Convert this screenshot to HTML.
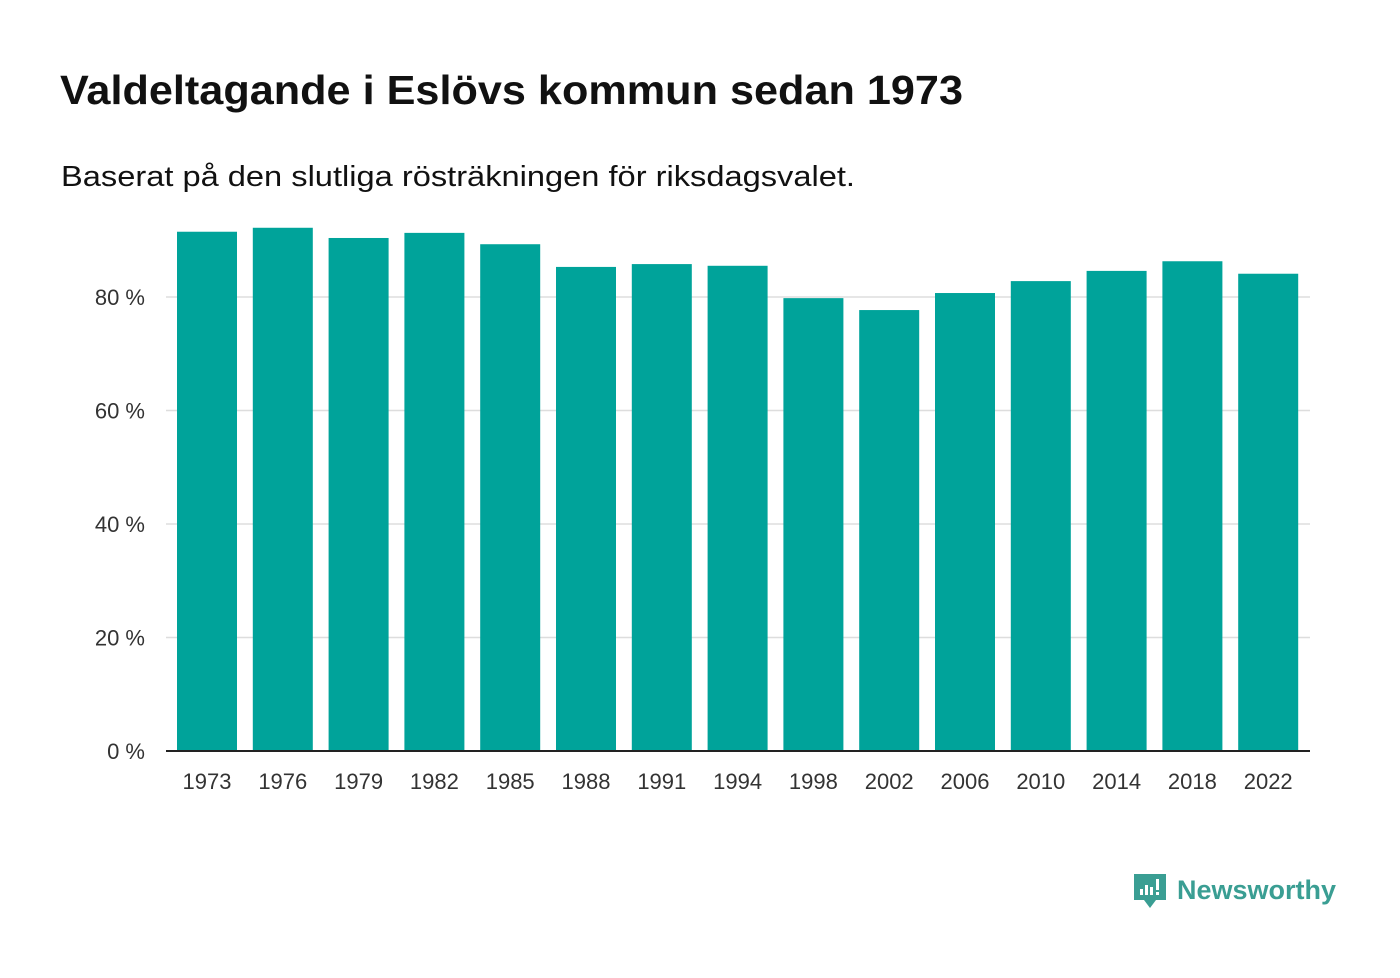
<!DOCTYPE html>
<html><head><meta charset="utf-8"><style>
body{margin:0;background:#fff;width:1400px;height:973px;overflow:hidden;font-family:"Liberation Sans",sans-serif;}
</style></head><body>
<svg width="1400" height="973">
<text x="60" y="104" font-size="41" font-weight="bold" fill="#111" textLength="903" lengthAdjust="spacingAndGlyphs">Valdeltagande i Eslövs kommun sedan 1973</text>
<text x="61" y="186" font-size="29" fill="#111" textLength="794" lengthAdjust="spacingAndGlyphs">Baserat på den slutliga rösträkningen för riksdagsvalet.</text>
<g id="grid"></g><g id="bars"></g><g id="xl"></g>
<g>
<path d="M1134 874 h32 v26 h-10 l-6 8 l-6 -8 h-10 z" fill="#3a9e93"/>
<rect x="1140" y="889" width="3" height="6" fill="#fff"/><rect x="1145" y="885" width="3" height="10" fill="#fff"/><rect x="1150" y="887" width="3" height="8" fill="#fff"/><rect x="1156" y="879" width="3" height="11" fill="#fff"/><rect x="1156" y="892" width="3" height="3" fill="#fff"/>
<text x="1177" y="899" font-size="27" font-weight="bold" fill="#3a9e93" textLength="159" lengthAdjust="spacingAndGlyphs">Newsworthy</text>
</g>
</svg>
<script>
const years=["1973","1976","1979","1982","1985","1988","1991","1994","1998","2002","2006","2010","2014","2018","2022"];
const values=[91.5,92.2,90.4,91.3,89.3,85.3,85.8,85.5,79.8,77.7,80.7,82.8,84.6,86.3,84.1];
const ticks=[0,20,40,60,80];
const ns="http://www.w3.org/2000/svg";
const y=v=>751-v*5.675;
const x=i=>177+i*75.8;
const g=document.getElementById('grid'),b=document.getElementById('bars'),xl=document.getElementById('xl');
ticks.forEach(t=>{
 if(t!==0){
 const l=document.createElementNS(ns,'line');
 l.setAttribute('x1',166);l.setAttribute('x2',1310);l.setAttribute('y1',y(t));l.setAttribute('y2',y(t));
 l.setAttribute('stroke','#ddd');l.setAttribute('stroke-width',1.5);
 
 
 g.appendChild(l);
 }
 const tx=document.createElementNS(ns,'text');
 tx.setAttribute('x',145);tx.setAttribute('y',y(t)+8);tx.setAttribute('text-anchor','end');
 tx.setAttribute('font-size','22');tx.setAttribute('fill','#333');tx.textContent=t+' %';
 
 
 g.appendChild(tx);
});
years.forEach((yr,i)=>{
 const r=document.createElementNS(ns,'rect');
 r.setAttribute('x',x(i));r.setAttribute('width',60);r.setAttribute('y',y(values[i]));
 r.setAttribute('height',751-y(values[i]));r.setAttribute('fill','#00a39a');
 
 
 b.appendChild(r);
 const t=document.createElementNS(ns,'text');
 t.setAttribute('x',x(i)+30);t.setAttribute('y',789);t.setAttribute('text-anchor','middle');
 t.setAttribute('font-size','22');t.setAttribute('fill','#333');t.textContent=yr;
 
 
 xl.appendChild(t);
});
const base=document.createElementNS(ns,'line');
base.setAttribute('x1',166);base.setAttribute('x2',1310);base.setAttribute('y1',751);base.setAttribute('y2',751);
base.setAttribute('stroke','#222');base.setAttribute('stroke-width',2);


b.appendChild(base);
</script>
</body></html>
